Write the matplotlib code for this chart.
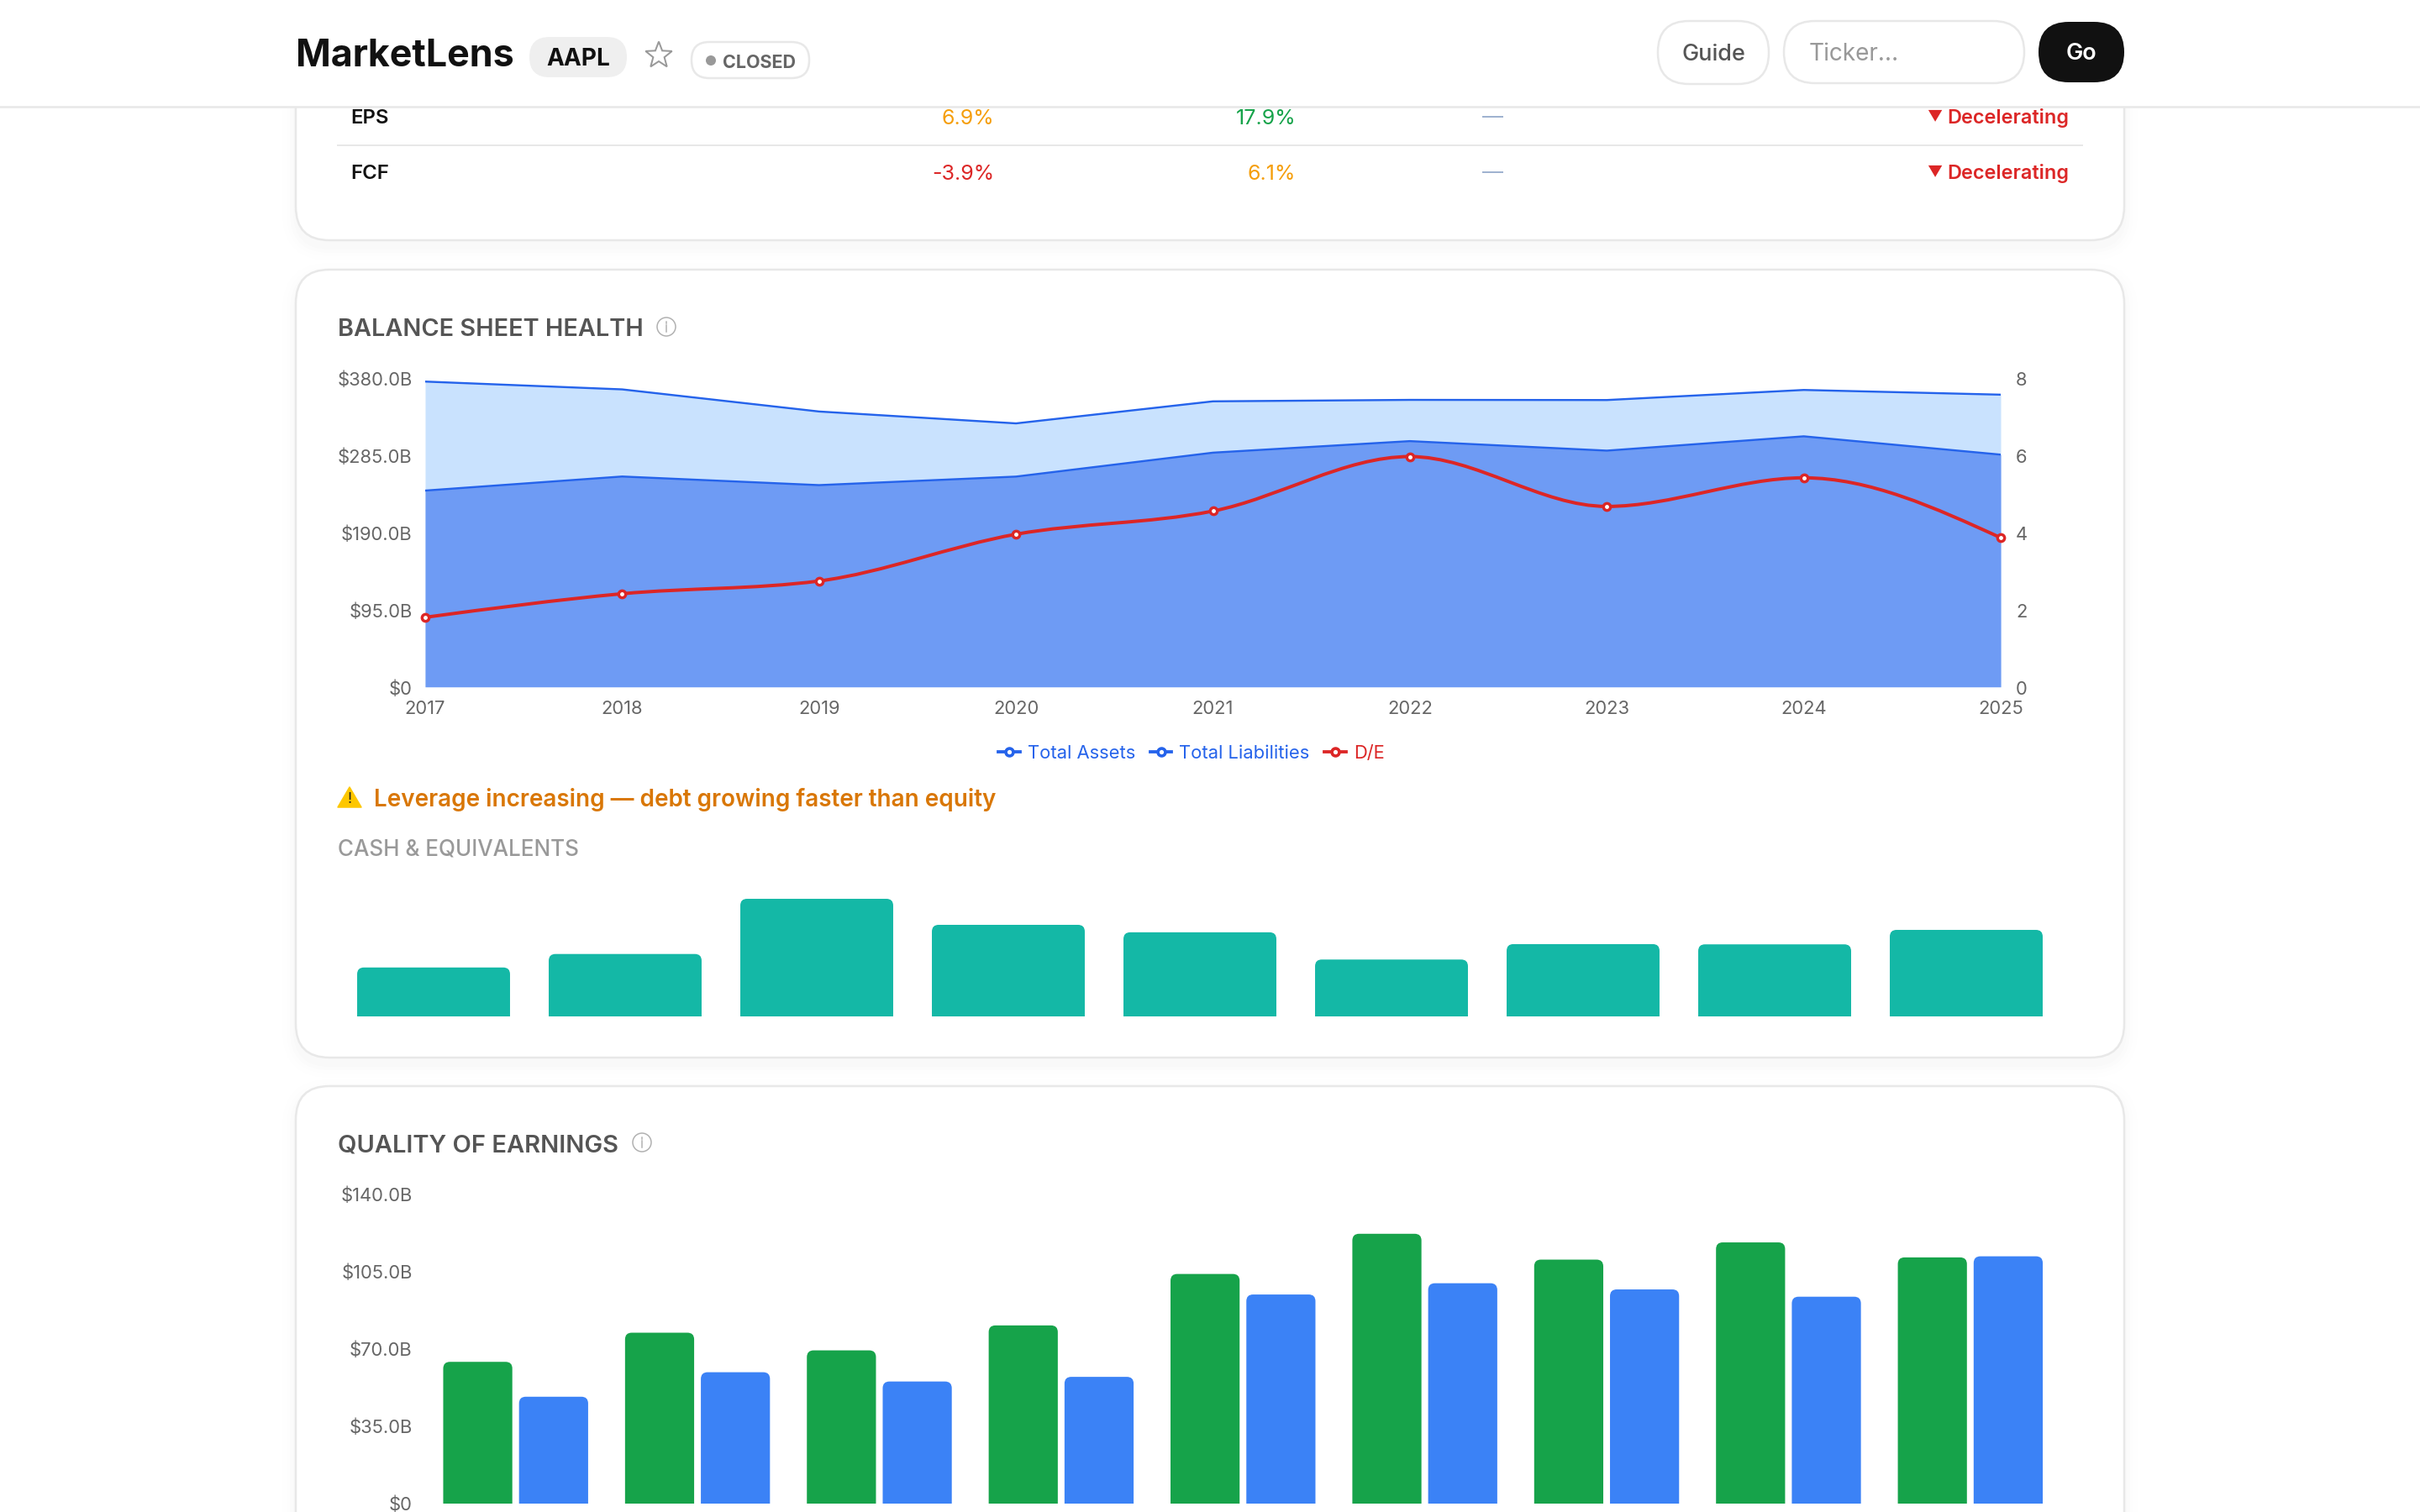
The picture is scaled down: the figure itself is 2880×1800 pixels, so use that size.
import numpy as np
import matplotlib
matplotlib.use("Agg")
import matplotlib.pyplot as plt
from matplotlib.path import Path
from matplotlib.patches import PathPatch, FancyBboxPatch, Circle, Polygon
from matplotlib.lines import Line2D
from matplotlib.transforms import ScaledTranslation

WIDTH, HEIGHT, DPI = 2880, 1800, 200
plt.rcParams["font.family"] = ["Inter", "DejaVu Sans"]

years = ["2017", "2018", "2019", "2020", "2021", "2022", "2023", "2024", "2025"]
total_assets = [375.3, 365.7, 338.5, 323.9, 351.0, 352.8, 352.6, 365.0, 359.2]
total_liabilities = [241.3, 258.6, 248.0, 258.5, 287.9, 302.1, 290.4, 308.0, 285.5]
debt_to_equity = [1.80, 2.41, 2.74, 3.95, 4.55, 5.96, 4.67, 5.41, 3.86]
cash = [20.3, 25.9, 48.8, 38.0, 34.9, 23.6, 30.0, 29.9, 35.9]
operating_cash_flow = [64.2, 77.4, 69.4, 80.7, 104.0, 122.2, 110.5, 118.3, 111.5]
net_income = [48.4, 59.5, 55.3, 57.4, 94.7, 99.8, 97.0, 93.7, 112.0]

asset_ticks = [0, 95, 190, 285, 380]
ratio_ticks = [0, 2, 4, 6, 8]
earnings_ticks = [0, 35, 70, 105, 140]

table_rows = [
    ("EPS", 141, [("6.9%", "#f59e0b"), ("17.9%", "#16a34a")]),
    ("FCF", 207, [("-3.9%", "#dc2626"), ("6.1%", "#f59e0b")]),
]

INK = "#111111"
MUTED = "#666666"
BORDER = "#e8e8e8"
BLUE = "#2563eb"
RED = "#dc2626"


def fs(px):
    """Font size in points for a height given in output pixels."""
    return px * 72 / DPI


def lw(px):
    """Line width in points for a width given in output pixels."""
    return px * 72 / DPI


def axes_px(left, top, right, bottom, **kw):
    return fig.add_axes(
        [left / WIDTH, 1 - bottom / HEIGHT, (right - left) / WIDTH, (bottom - top) / HEIGHT], **kw
    )


def rounded(ax, x0, y0, x1, y1, r, fc="white", ec="none", px=0.0, z=1, alpha=None):
    patch = FancyBboxPatch(
        (x0 + r, y0 + r), x1 - x0 - 2 * r, y1 - y0 - 2 * r,
        boxstyle=f"round,pad={r},rounding_size={r}",
        fc=fc, ec=ec, lw=lw(px), zorder=z, alpha=alpha,
    )
    ax.add_patch(patch)


def card(ax, top, bottom):
    for grow, alpha in [(16, 0.004), (11, 0.005), (7, 0.006), (3, 0.007)]:
        rounded(ax, 352 - grow, top - grow + 8, 2528 + grow, bottom + grow + 8, 40 + grow,
                fc="black", z=1, alpha=alpha)
    rounded(ax, 352, top, 2528, bottom, 40, fc="white", ec=BORDER, px=2.5, z=2)


def info_icon(ax, cx, cy):
    ax.add_patch(Circle((cx, cy), 11, fc="none", ec="#b0b0b0", lw=lw(1.5), zorder=5))
    ax.plot([cx, cx], [cy - 2, cy + 6], color="#b0b0b0", lw=lw(1.5), zorder=5)
    ax.plot([cx, cx], [cy - 6, cy - 4.5], color="#b0b0b0", lw=lw(1.5), zorder=5)


def monotone_path(values):
    """Monotone cubic through evenly spaced points, as Bezier segments."""
    y = np.asarray(values, float)
    s = np.diff(y)
    t = np.zeros_like(y)
    for i in range(1, len(y) - 1):
        p = (s[i - 1] + s[i]) / 2
        t[i] = (np.sign(s[i - 1]) + np.sign(s[i])) * min(abs(s[i - 1]), abs(s[i]), 0.5 * abs(p))
    t[0] = (3 * s[0] - t[1]) / 2
    t[-1] = (3 * s[-1] - t[-2]) / 2
    verts = [(0.0, y[0])]
    codes = [Path.MOVETO]
    for i in range(len(y) - 1):
        verts += [(i + 1 / 3, y[i] + t[i] / 3), (i + 2 / 3, y[i + 1] - t[i + 1] / 3), (i + 1.0, y[i + 1])]
        codes += [Path.CURVE4] * 3
    return Path(verts, codes)


def top_rounded_bar(ax, center, width, value, color, radius_px=8):
    """Bar with rounded upper corners; the radius is kept in output pixels."""
    box = ax.get_position()
    x_span = ax.get_xlim()[1] - ax.get_xlim()[0]
    y_span = ax.get_ylim()[1] - ax.get_ylim()[0]
    rx = radius_px * x_span / (box.width * WIDTH)
    ry = radius_px * y_span / (box.height * HEIGHT)
    x0, x1 = center - width / 2, center + width / 2
    verts = [(x0, 0), (x0, value - ry), (x0, value), (x0 + rx, value), (x1 - rx, value),
             (x1, value), (x1, value - ry), (x1, 0), (x0, 0)]
    codes = [Path.MOVETO, Path.LINETO, Path.CURVE3, Path.CURVE3, Path.LINETO,
             Path.CURVE3, Path.CURVE3, Path.LINETO, Path.CLOSEPOLY]
    ax.add_patch(PathPatch(Path(verts, codes), fc=color, ec="none"))


def clean_axes(ax):
    for spine in ax.spines.values():
        spine.set_visible(False)
    ax.patch.set_alpha(0)
    ax.tick_params(length=0)


def nudge_labels(labels, down_px):
    """Move tick labels down by a few output pixels."""
    offset = ScaledTranslation(0, -down_px / DPI, fig.dpi_scale_trans)
    for label in labels:
        label.set_transform(label.get_transform() + offset)


def money(v):
    return "$0" if v == 0 else f"${v:.1f}B"


fig = plt.figure(figsize=(WIDTH / DPI, HEIGHT / DPI), dpi=DPI, facecolor="white")

# Page furniture lives on one axes measured in output pixels.
page = fig.add_axes([0, 0, 1, 1])
page.set_xlim(0, WIDTH)
page.set_ylim(HEIGHT, 0)
page.axis("off")

card(page, -200, 286)
card(page, 321, 1259)
card(page, 1293, 2100)

# Table rows left in view under the header
page.plot([402, 2478], [173, 173], color=BORDER, lw=lw(2), zorder=3)
for label, y, cells in table_rows:
    page.text(417, y, label, fontsize=fs(24), fontweight="semibold", color=INK, va="center", zorder=4)
    for (value, color), right in zip(cells, [1183, 1542]):
        page.text(right, y, value, fontsize=fs(25), color=color, ha="right", va="center", zorder=4)
    page.text(1776, y - 1, "—", fontsize=fs(25), color="#9fb2d0", ha="center", va="center", zorder=4)
    page.text(2302, y - 2, "▼", fontsize=fs(18), color=RED, ha="center", va="center", zorder=4)
    page.text(2462, y, "Decelerating", fontsize=fs(23.5), fontweight="semibold", color=RED,
              ha="right", va="center", zorder=4)

# Sticky header
page.fill_between([0, WIDTH], 0, 127, color="white", zorder=6, lw=0)
page.plot([0, WIDTH], [127, 127], color=BORDER, lw=lw(2.5), zorder=7)
page.text(352, 67, "MarketLens", fontsize=fs(44.8), fontweight="bold", color=INK, va="center", zorder=8)
rounded(page, 630, 44, 746, 92, 24, fc="#efefef", z=7)
page.text(688, 71, "AAPL", fontsize=fs(28), fontweight="bold", color=INK, ha="center", va="center", zorder=8)
star_angles = np.pi / 2 + np.arange(10) * np.pi / 5
star_radii = np.where(np.arange(10) % 2 == 0, 16.5, 7.0)
page.add_patch(Polygon(np.c_[784 + star_radii * np.cos(star_angles), 66 - star_radii * np.sin(star_angles)],
                       closed=True, fc="none", ec="#999999", lw=lw(2), zorder=8))
rounded(page, 823, 50, 963, 93, 21, fc="white", ec=BORDER, px=2.5, z=7)
page.add_patch(Circle((846, 72), 6, fc="#999999", ec="none", zorder=8))
page.text(860, 75, "CLOSED", fontsize=fs(21.5), fontweight="bold", color=MUTED, va="center", zorder=8)
rounded(page, 1973, 25, 2105, 100, 37, fc="white", ec=BORDER, px=2.5, z=7)
page.text(2039, 65, "Guide", fontsize=fs(27), fontweight="medium", color="#555555", ha="center", va="center", zorder=8)
rounded(page, 2123, 25, 2409, 99, 37, fc="white", ec=BORDER, px=2.5, z=7)
page.text(2153, 64, "Ticker...", fontsize=fs(28), color="#999999", va="center", zorder=8)
rounded(page, 2426, 26, 2528, 98, 36, fc=INK, z=7)
page.text(2477, 64, "Go", fontsize=fs(27), fontweight="semibold", color="white", ha="center", va="center", zorder=8)

# Card headings and notes
page.text(402, 392, "BALANCE SHEET HEALTH", fontsize=fs(28.9), fontweight="semibold", color="#555555", va="center", zorder=4)
info_icon(page, 793, 389)
page.text(402, 1364, "QUALITY OF EARNINGS", fontsize=fs(29.1), fontweight="semibold", color="#555555", va="center", zorder=4)
info_icon(page, 764, 1360)
page.add_patch(Polygon([[416, 937], [430, 961], [402, 961]], closed=True, fc="#fdc700", ec="#fdc700",
                       lw=lw(1.5), joinstyle="round", zorder=4))
page.text(416, 951, "!", fontsize=fs(18), color="#222222", ha="center", va="center", zorder=5)
page.text(445, 952, "Leverage increasing — debt growing faster than equity", fontsize=fs(27.9),
          fontweight="semibold", color="#d97706", va="center", zorder=4)
page.text(402, 1012, "CASH & EQUIVALENTS", fontsize=fs(26), fontweight="medium", color="#999999", va="center", zorder=4)

# Balance sheet: assets and liabilities on the left scale, D/E on the right
x = np.arange(len(years))
ax = axes_px(506, 449.7, 2381, 817.7)
clean_axes(ax)
ax.set_xlim(0, len(years) - 1)
ax.set_ylim(0, asset_ticks[-1])
ax.fill_between(x, total_assets, color="#c9e2fe", lw=0)
ax.fill_between(x, total_liabilities, color="#6e9bf4", lw=0)
ax.plot(x, total_assets, color=BLUE, lw=lw(2.4))
ax.plot(x, total_liabilities, color=BLUE, lw=lw(2.4))
ax.set_xticks(x, years)
ax.set_yticks(asset_ticks, [money(v) for v in asset_ticks])
ax.tick_params(axis="x", labelsize=fs(22), labelcolor=MUTED, pad=5.7)
ax.tick_params(axis="y", labelsize=fs(22), labelcolor=MUTED, pad=5.5)
nudge_labels(ax.get_yticklabels(), 1)

ratio = ax.twinx()
clean_axes(ratio)
ratio.set_ylim(0, ratio_ticks[-1])
ratio.set_yticks(ratio_ticks, [str(v) for v in ratio_ticks])
ratio.tick_params(axis="y", labelsize=fs(22), labelcolor=MUTED, pad=6.5)
nudge_labels(ratio.get_yticklabels(), 1)
ratio.add_patch(PathPatch(monotone_path(debt_to_equity), fc="none", ec=RED, lw=lw(4)))
ratio.plot(x, debt_to_equity, ls="none", marker="o", ms=3.0, mfc="white", mec=RED, mew=lw(3.4), clip_on=False)

handle_style = dict(marker="o", ms=3.2, mfc="white", mew=lw(3.6), lw=lw(3.8))
handles = [
    Line2D([], [], color=BLUE, label="Total Assets", **handle_style),
    Line2D([], [], color=BLUE, label="Total Liabilities", **handle_style),
    Line2D([], [], color=RED, label="D/E", **handle_style),
]
fig.legend(handles=handles, ncol=3, loc="center", bbox_to_anchor=(1418 / WIDTH, 1 - 897 / HEIGHT),
           frameon=False, fontsize=fs(22), labelcolor="linecolor", handlelength=1.15,
           handletextpad=0.42, columnspacing=0.8, borderpad=0, borderaxespad=0)

# Cash bars
cash_ax = axes_px(402, 1066, 2454, 1210)
clean_axes(cash_ax)
cash_ax.set_xlim(0, len(years))
cash_ax.set_ylim(0, 50.2)
cash_ax.set_xticks([])
cash_ax.set_yticks([])
for i, v in enumerate(cash):
    top_rounded_bar(cash_ax, i + 0.5, 0.798, v, "#14b8a6")

# Operating cash flow against net income
earn_ax = axes_px(505.5, 1422, 2453, 1790)
clean_axes(earn_ax)
earn_ax.set_xlim(0, len(years))
earn_ax.set_ylim(0, earnings_ticks[-1])
earn_ax.set_xticks([])
earn_ax.set_yticks(earnings_ticks, [money(v) for v in earnings_ticks])
earn_ax.tick_params(axis="y", labelsize=fs(22), labelcolor=MUTED, pad=5.3)
BAR_W, BAR_GAP = 0.38, 0.037
for i, (ocf, ni) in enumerate(zip(operating_cash_flow, net_income)):
    top_rounded_bar(earn_ax, i + 0.5 - (BAR_W + BAR_GAP) / 2, BAR_W, ocf, "#16a34a")
    top_rounded_bar(earn_ax, i + 0.5 + (BAR_W + BAR_GAP) / 2, BAR_W, ni, "#3b82f6")

fig.savefig("out.png", dpi=DPI, facecolor="white")
